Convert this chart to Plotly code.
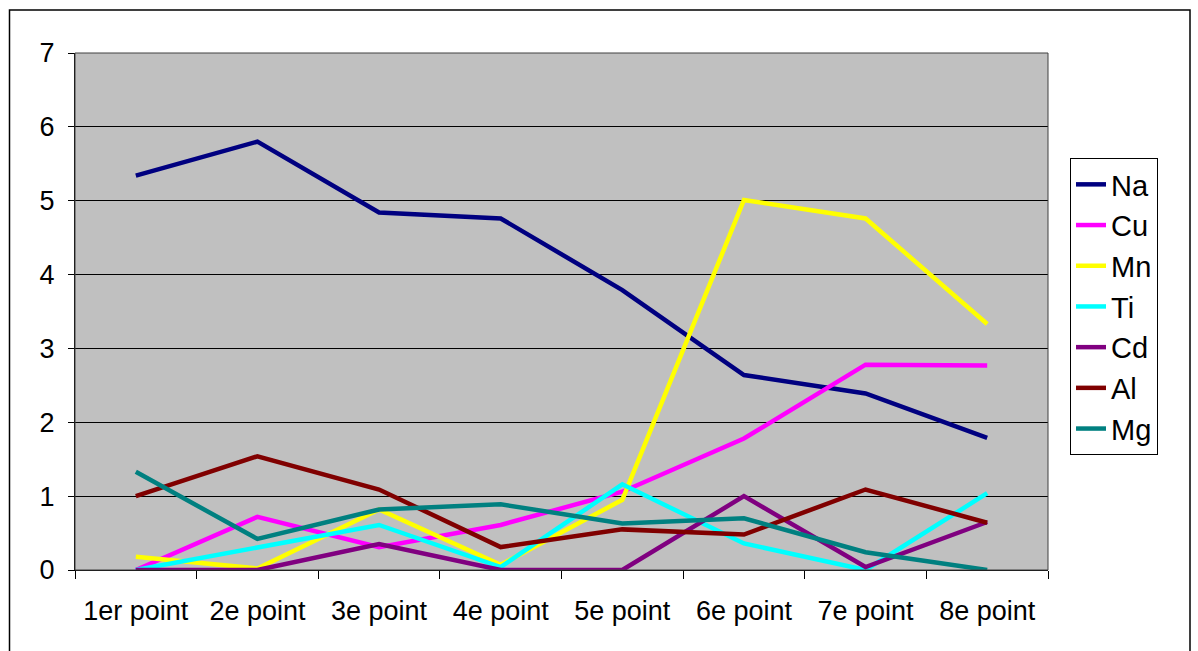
import plotly.graph_objects as go

points = ["1er point", "2e point", "3e point", "4e point",
          "5e point", "6e point", "7e point", "8e point"]

na = [5.34, 5.80, 4.84, 4.76, 3.79, 2.64, 2.39, 1.79]
cu = [0.00, 0.72, 0.31, 0.61, 1.06, 1.78, 2.78, 2.77]
mn = [0.18, 0.02, 0.82, 0.07, 0.95, 5.01, 4.76, 3.33]
ti = [0.00, 0.31, 0.61, 0.04, 1.16, 0.36, 0.00, 1.04]
cd = [0.00, 0.00, 0.35, 0.00, 0.00, 1.00, 0.04, 0.65]
al = [1.00, 1.54, 1.09, 0.31, 0.55, 0.48, 1.09, 0.64]
mg = [1.33, 0.42, 0.82, 0.89, 0.63, 0.70, 0.24, 0.00]

series = [
    ("Na", na, "#000080"),
    ("Cu", cu, "#FF00FF"),
    ("Mn", mn, "#FFFF00"),
    ("Ti", ti, "#00FFFF"),
    ("Cd", cd, "#800080"),
    ("Al", al, "#800000"),
    ("Mg", mg, "#008080"),
]

font_family = "Liberation Sans, Arial, sans-serif"

fig = go.Figure()
for name, values, color in series:
    fig.add_trace(go.Scatter(
        x=points, y=values, name=name, mode="lines",
        line=dict(color=color, width=4.5),
    ))

W, H = 1198, 651
L, R, T, B = 75, 150, 53, 81
pw, ph = W - L - R, H - T - B

def px_to_paper_x(px):
    return (px - L) / pw

def px_to_paper_y(py):
    return (H - B - py) / ph

fig.update_layout(
    width=W, height=H,
    margin=dict(l=L, r=R, t=T, b=B),
    paper_bgcolor="white",
    plot_bgcolor="#C0C0C0",
    font=dict(family=font_family, size=27, color="black"),
    showlegend=True,
    legend=dict(
        x=px_to_paper_x(1070), y=px_to_paper_y(158),
        xanchor="left", yanchor="top",
        bgcolor="white", bordercolor="black", borderwidth=1,
        font=dict(size=29), tracegroupgap=0, itemwidth=30,
    ),
    xaxis=dict(
        type="category", range=[-0.5, 7.5],
        showgrid=False, zeroline=False,
        ticks="outside", tickson="boundaries", ticklen=8,
        tickcolor="black", linecolor="black", showline=True,
        tickfont=dict(size=27), ticklabelstandoff=17,
    ),
    yaxis=dict(
        range=[0, 7], dtick=1, tick0=0,
        showgrid=True, gridcolor="black", gridwidth=1,
        zeroline=False, ticks="outside", ticklen=6,
        tickcolor="black", linecolor="black", showline=True,
        tickfont=dict(size=27), ticklabelstandoff=8,
    ),
    shapes=[
        # plot-area frame
        dict(type="rect", xref="paper", yref="paper",
             x0=0, y0=0, x1=1, y1=1,
             line=dict(color="#404040", width=1), layer="above"),
        # outer chart frame
        dict(type="rect", xref="paper", yref="paper",
             x0=px_to_paper_x(9.5), x1=px_to_paper_x(1190),
             y0=px_to_paper_y(660), y1=px_to_paper_y(10),
             line=dict(color="black", width=1.5), layer="below"),
    ],
)

fig.write_html("out.html")
